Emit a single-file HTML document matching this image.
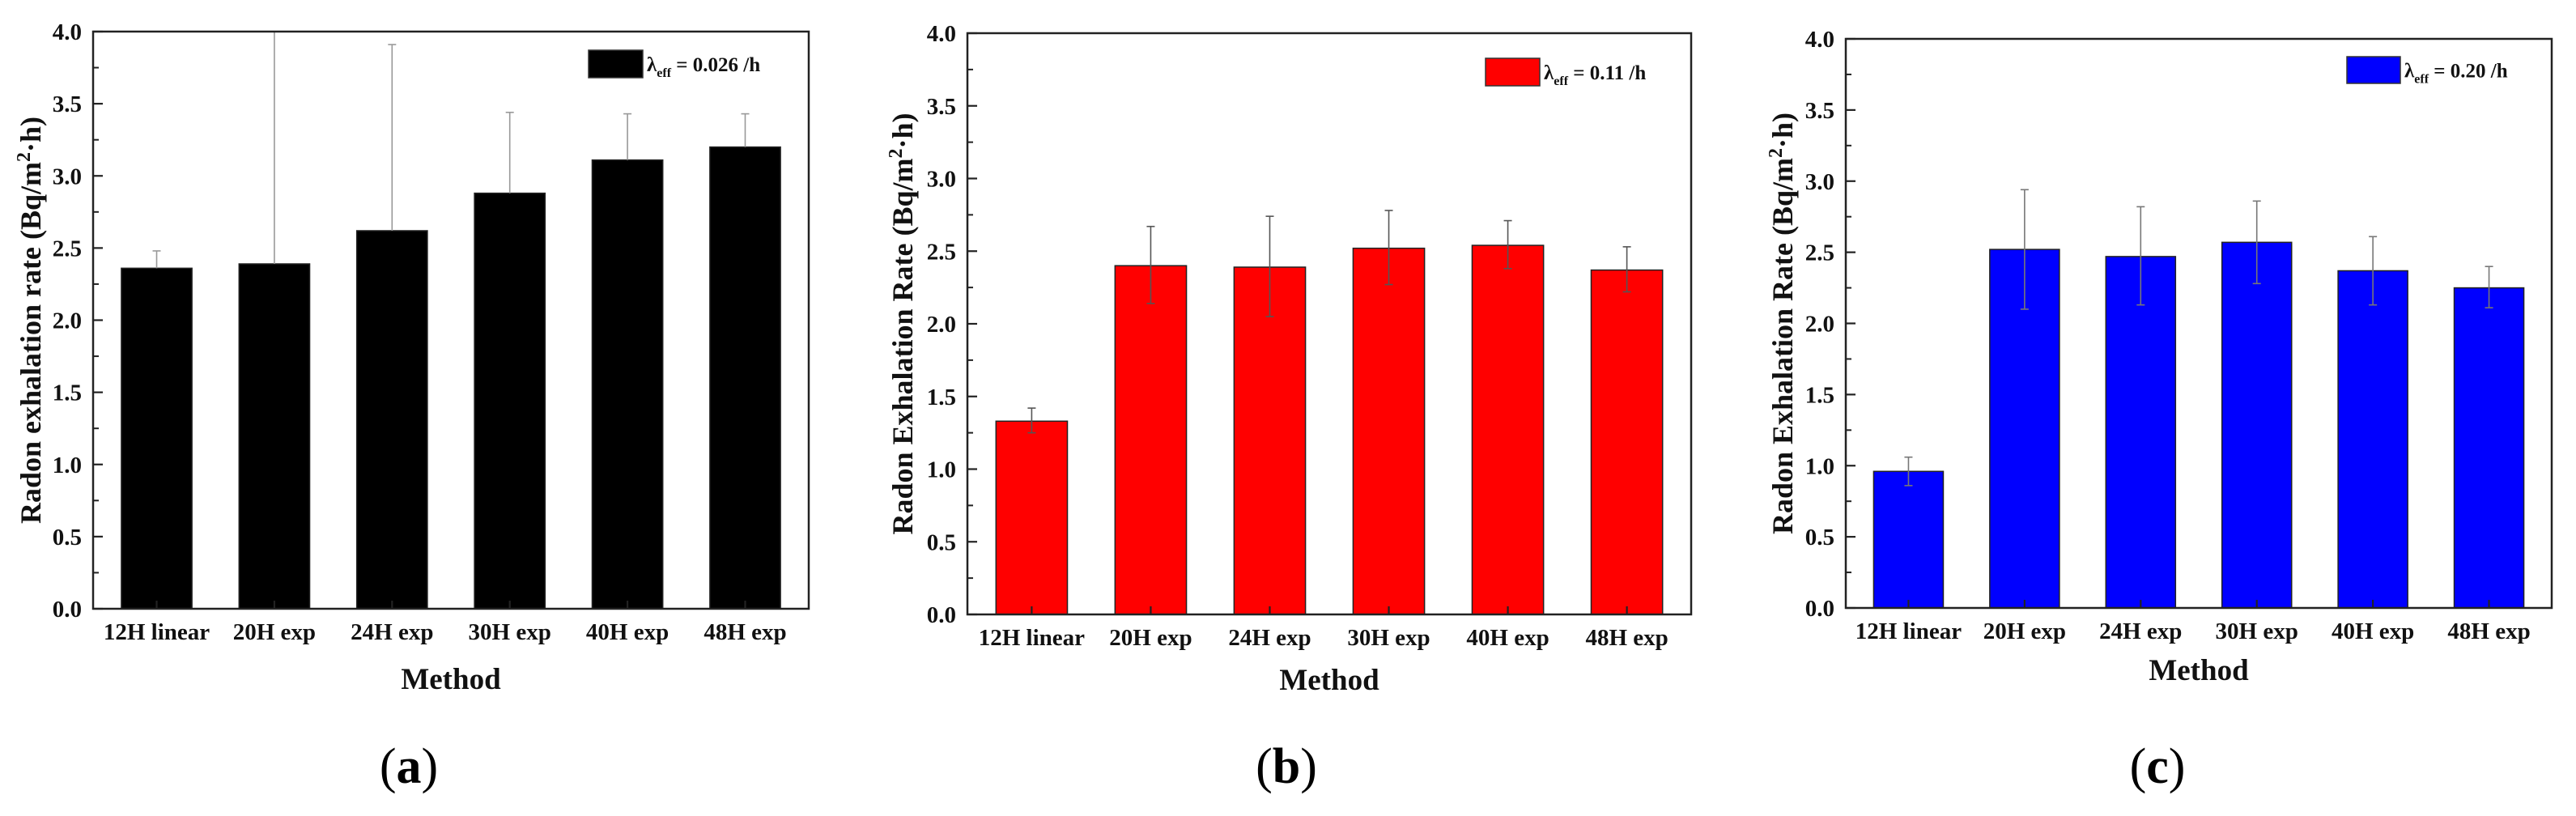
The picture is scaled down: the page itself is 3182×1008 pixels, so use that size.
<!DOCTYPE html>
<html><head><meta charset="utf-8"><style>
body{margin:0;background:#fff;}
svg{display:block;font-family:"Liberation Serif","DejaVu Serif",serif;}
</style></head><body>
<svg id="fig" width="3182" height="1008" viewBox="0 0 3182 1008" xmlns="http://www.w3.org/2000/svg"></svg>
<script>
const categories = ["12H linear","20H exp","24H exp","30H exp","40H exp","48H exp"];
const yTicks = ["0.0","0.5","1.0","1.5","2.0","2.5","3.0","3.5","4.0"];
const valuesA = [2.36, 2.39, 2.62, 2.88, 3.11, 3.20];
const errUpA = [2.48, 4.05, 3.91, 3.44, 3.43, 3.43];
const errLoA = [2.36, 2.39, 2.62, 2.88, 3.11, 3.20];
const valuesB = [1.33, 2.40, 2.39, 2.52, 2.54, 2.37];
const errUpB = [1.42, 2.67, 2.74, 2.78, 2.71, 2.53];
const errLoB = [1.25, 2.14, 2.05, 2.27, 2.38, 2.22];
const valuesC = [0.96, 2.52, 2.47, 2.57, 2.37, 2.25];
const errUpC = [1.06, 2.94, 2.82, 2.86, 2.61, 2.40];
const errLoC = [0.86, 2.10, 2.13, 2.28, 2.13, 2.11];
const legendA = "0.026 /h", legendB = "0.11 /h", legendC = "0.20 /h";
const yTitleA = "Radon exhalation rate (Bq/m", yTitleBC = "Radon Exhalation Rate (Bq/m";

const NS = "http://www.w3.org/2000/svg";
const svg = document.getElementById("fig");
function mk(tag, attrs, parent, text){
  const e = document.createElementNS(NS, tag);
  for (const k in attrs) e.setAttribute(k, attrs[k]);
  if (text !== undefined) e.textContent = text;
  (parent || svg).appendChild(e);
  return e;
}

function panel(id, L, R, T, B, vals, up, lo, color, leg, legBox, yTitle, yTitleX, methodY, upperOnly, errColor){
  const g = mk("g", {});
  
  
  const ymax = 4.0;
  const y = v => B - (Math.min(v, ymax) / ymax) * (B - T);
  const step = (R - L) / 6.08;
  const x0 = L + step * 0.54;
  const x = i => x0 + i * step;
  const bw = step * 0.6;
  vals.forEach((v, i) => {
    const r = mk("rect", {x: x(i) - bw/2, y: y(v), width: bw, height: B - y(v), fill: color, stroke: "#222", "stroke-width": 1.5}, g);
    
    
  });
  vals.forEach((v, i) => {
    const top = y(up[i]), bot = upperOnly ? y(v) : y(lo[i]);
    const e = mk("g", {stroke: errColor, "stroke-width": 1.6}, g);
    
    
    mk("line", {x1: x(i), x2: x(i), y1: top, y2: bot}, e);
    if (up[i] <= ymax) mk("line", {x1: x(i) - 5, x2: x(i) + 5, y1: top, y2: top}, e);
    if (!upperOnly) mk("line", {x1: x(i) - 5, x2: x(i) + 5, y1: bot, y2: bot}, e);
  });
  const f = mk("rect", {x: L, y: T, width: R - L, height: B - T, fill: "none", stroke: "#222", "stroke-width": 2.5}, g);
  
  
  yTicks.forEach((t, k) => {
    const v = parseFloat(t);
    const yy = y(v);
    mk("line", {x1: L, x2: L + 12, y1: yy, y2: yy, stroke: "#222", "stroke-width": 2.2}, g);
    if (k < yTicks.length - 1) {
      const ym = y(v + 0.25);
      mk("line", {x1: L, x2: L + 7, y1: ym, y2: ym, stroke: "#222", "stroke-width": 2}, g);
    }
    const tl = mk("text", {x: L - 14, y: yy + 10, "text-anchor": "end", "font-size": 29, "font-weight": "bold", fill: "#111"}, g, t);
    
    
  });
  categories.forEach((c, i) => {
    mk("line", {x1: x(i), x2: x(i), y1: B, y2: B - 10, stroke: "#222", "stroke-width": 2.2}, g);
    const tl = mk("text", {x: x(i), y: B + 38, "text-anchor": "middle", "font-size": 29, "font-weight": "bold", fill: "#111"}, g, c);
    
    
  });
  const xt = mk("text", {x: (L + R) / 2, y: methodY, "text-anchor": "middle", "font-size": 37, "font-weight": "bold", fill: "#111"}, g, "Method");
  
  
  const yt = mk("text", {transform: `translate(${yTitleX},${(T + B) / 2}) rotate(-90)`, "text-anchor": "middle", "font-size": 36, "font-weight": "bold", fill: "#111"}, g);
  
  
  mk("tspan", {}, yt, yTitle);
  mk("tspan", {dy: -13, "font-size": 24}, yt, "2");
  mk("tspan", {dy: 13}, yt, "·h)");
  const lg = mk("g", {}, g);
  
  
  mk("rect", {x: legBox[0], y: legBox[1], width: legBox[2], height: legBox[3], fill: color, stroke: "#333", "stroke-width": 1.5}, lg);
  const lt = mk("text", {x: legBox[0] + legBox[2] + 5, y: legBox[1] + legBox[3] / 2 + 9, "font-size": 25, "font-weight": "bold", fill: "#111"}, lg);
  mk("tspan", {}, lt, "λ");
  mk("tspan", {dy: 7, "font-size": 16}, lt, "eff");
  mk("tspan", {dy: -7}, lt, " = " + leg);
}

panel("a", 115, 999, 39, 752, valuesA, errUpA, errLoA, "#000", legendA, [727, 62, 67, 34], yTitleA, 50, 851, true, "#999");
panel("b", 1195, 2089, 41, 759, valuesB, errUpB, errLoB, "#ff0000", legendB, [1835, 72, 67, 34], yTitleBC, 1127, 852, false, "#555");
panel("c", 2280, 3152, 48, 751, valuesC, errUpC, errLoC, "#0000ff", legendC, [2899, 70, 66, 33], yTitleBC, 2214, 840, false, "#777");

const caps = [["a", 505], ["b", 1589], ["c", 2665]];
caps.forEach(([c, cx]) => {
  const t = mk("text", {x: cx, y: 967, "text-anchor": "middle", "font-size": 62, fill: "#000"});
  
  
  mk("tspan", {}, t, "(");
  mk("tspan", {"font-weight": "bold"}, t, c);
  mk("tspan", {}, t, ")");
});
</script>
</body></html>
